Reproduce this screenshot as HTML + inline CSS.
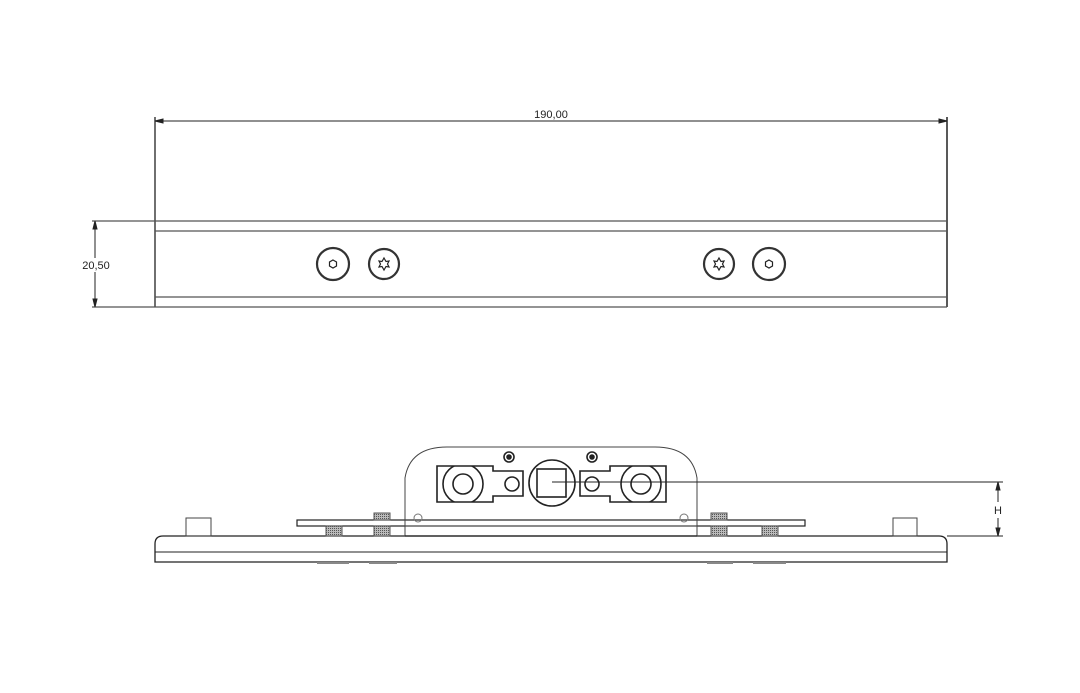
<!DOCTYPE html>
<html><head><meta charset="utf-8"><style>html,body{margin:0;padding:0;background:#fff;}svg{display:block}</style></head>
<body>
<svg width="1080" height="693" viewBox="0 0 1080 693" xmlns="http://www.w3.org/2000/svg" font-family="Liberation Sans, sans-serif">
<defs>
<clipPath id="cl"><rect x="437" y="466" width="56" height="36"/></clipPath>
<clipPath id="cr"><rect x="610" y="466" width="56" height="36"/></clipPath>
<pattern id="kn" width="2" height="2" patternUnits="userSpaceOnUse"><rect width="2" height="2" fill="#bbb"/><rect width="1" height="1" fill="#555"/></pattern>
</defs>
<g stroke="#222" fill="none" stroke-width="1">
<!-- top view -->
<line x1="155" y1="117" x2="155" y2="307" stroke-width="1.3"/>
<line x1="947" y1="117" x2="947" y2="307" stroke-width="1.5"/>
<line x1="157" y1="121" x2="945" y2="121"/>
<polygon points="155,121 163,119 163,123" fill="#222"/>
<polygon points="947,121 939,119 939,123" fill="#222"/>
<line x1="92" y1="221" x2="947" y2="221" stroke="#555" stroke-width="1.3"/>
<line x1="155" y1="231" x2="947" y2="231" stroke="#555" stroke-width="1.3"/>
<line x1="155" y1="297" x2="947" y2="297" stroke="#555" stroke-width="1.3"/>
<line x1="92" y1="307" x2="947" y2="307" stroke="#555" stroke-width="1.3"/>
<line x1="95" y1="223" x2="95" y2="258"/>
<line x1="95" y1="272" x2="95" y2="305"/>
<polygon points="95,221 93,229 97,229" fill="#222"/>
<polygon points="95,307 93,299 97,299" fill="#222"/>
<g stroke-width="2.2" stroke="#333">
<circle cx="333" cy="264" r="16"/><circle cx="384" cy="264" r="15"/>
<circle cx="719" cy="264" r="15"/><circle cx="769" cy="264" r="16"/>
</g>
<g stroke-width="1.2">
<polygon points="333,260 336.5,262 336.5,266 333,268 329.5,266 329.5,262"/>
<polygon points="769,260 772.5,262 772.5,266 769,268 765.5,266 765.5,262"/>
<polygon points="384,258 386,261.5 389,261 387.5,264 389,267 386,266.5 384,270 382,266.5 379,267 380.5,264 379,261 382,261.5"/>
<polygon points="719,258 721,261.5 724,261 722.5,264 724,267 721,266.5 719,270 717,266.5 714,267 715.5,264 714,261 717,261.5"/>
</g>
<!-- bottom view -->
<path d="M163,536 H939 Q947,536 947,544 V562 H155 V544 Q155,536 163,536 Z" stroke-width="1.3"/>
<line x1="155" y1="552" x2="947" y2="552"/>
<g fill="#888" stroke="none">
<rect x="317" y="562" width="32" height="2"/><rect x="369" y="562" width="28" height="2"/>
<rect x="707" y="562" width="26" height="2"/><rect x="753" y="562" width="33" height="2"/>
</g>
<rect x="186" y="518" width="25" height="18" stroke="#444"/>
<rect x="893" y="518" width="24" height="18" stroke="#444"/>
<rect x="297" y="520" width="508" height="6" stroke-width="1.2"/>
<g fill="url(#kn)" stroke="#555">
<rect x="374" y="513" width="16" height="7"/><rect x="326" y="526" width="16" height="10"/><rect x="374" y="526" width="16" height="10"/>
<rect x="711" y="513" width="16" height="7"/><rect x="711" y="526" width="16" height="10"/><rect x="762" y="526" width="16" height="10"/>
</g>
<path d="M405,536 V478 Q410,447 447,447 H655 Q692,447 697,478 V536" stroke="#444"/>
<line x1="405" y1="526" x2="697" y2="526" stroke="#444"/>
<line x1="405" y1="536" x2="697" y2="536" stroke-width="1.3"/>
<circle cx="418" cy="518" r="4" stroke="#777"/><circle cx="684" cy="518" r="4" stroke="#777"/>
<g stroke-width="1.6">
<path d="M437,466 H493 V471 H523 V496 H493 V502 H437 Z"/>
<circle cx="463" cy="484" r="10"/>
<circle cx="463" cy="484" r="20" clip-path="url(#cl)"/>
<circle cx="512" cy="484" r="7"/>
<path d="M666,466 H610 V471 H580 V496 H610 V502 H666 Z"/>
<circle cx="641" cy="484" r="10"/>
<circle cx="641" cy="484" r="20" clip-path="url(#cr)"/>
<circle cx="592" cy="484" r="7"/>
<circle cx="552" cy="483" r="23"/>
<rect x="537" y="469" width="29" height="28"/>
<circle cx="509" cy="457" r="5"/><circle cx="509" cy="457" r="2" fill="#222"/>
<circle cx="592" cy="457" r="5"/><circle cx="592" cy="457" r="2" fill="#222"/>
</g>
<line x1="552" y1="482" x2="1003" y2="482"/>
<line x1="947" y1="536" x2="1003" y2="536"/>
<line x1="998" y1="484" x2="998" y2="502"/>
<line x1="998" y1="518" x2="998" y2="534"/>
<polygon points="998,482 996,490 1000,490" fill="#222"/>
<polygon points="998,536 996,528 1000,528" fill="#222"/>
</g>
<g fill="#222" font-size="11">
<text x="551" y="118" text-anchor="middle">190,00</text>
<text x="96" y="269" text-anchor="middle">20,50</text>
<text x="998" y="514" text-anchor="middle">H</text>
</g>
</svg>
</body></html>
